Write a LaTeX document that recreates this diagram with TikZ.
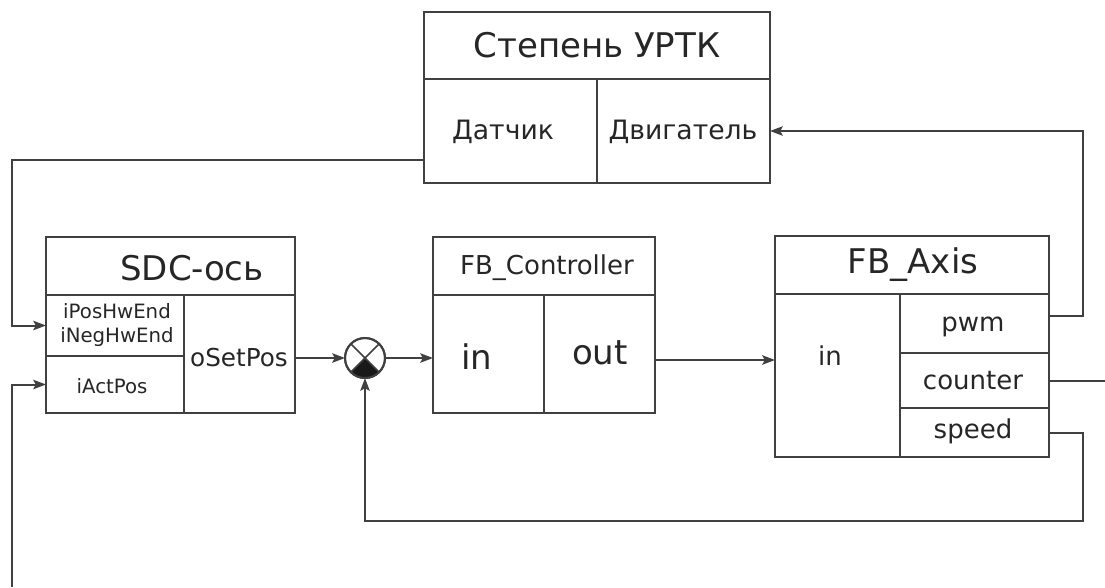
\documentclass[tikz,border=0pt]{standalone}
\usepackage{fontspec}
\setmainfont{DejaVu Sans}
\usetikzlibrary{arrows.meta,fit}

\begin{document}
\begin{tikzpicture}[x=0.75pt,y=-0.75pt,
  line join=miter,
  ink/.style={draw=black!75, line width=1.6pt},
  cellbox/.style={ink, rectangle, inner sep=0pt, outer sep=0pt},
  conn/.style={draw=black!75, line width=1.5pt},
  arr/.style={conn, -{Stealth[length=9.5pt,width=7pt,inset=1.8pt]}},
  big/.style={font=\fontsize{25.5}{30}\selectfont, inner sep=0pt, text=black!85},
  mid/.style={font=\fontsize{19.5}{23}\selectfont, inner sep=0pt, text=black!85},
  small/.style={font=\fontsize{14.8}{18}\selectfont, inner sep=0pt, align=center, text=black!85},
]
\useasboundingbox (0,0) rectangle (1105,587);

% ---- plant block
\node[cellbox, fit={(424,12) (770,79)}] (urtk) {};
\node[cellbox, fit={(424,79) (597,183)}] (dat) {};
\node[cellbox, fit={(597,79) (770,183)}] (dvig) {};
\node[big] (urtkT) at (597,45) {Степень УРТК};
\node[mid, font=\fontsize{20}{24}\selectfont] (datT) at (503,132) {Датчик};
\node[mid, font=\fontsize{20}{24}\selectfont] (dvigT) at (683,132) {Двигатель};

% ---- SDC axis block
\node[cellbox, fit={(46,237) (295,295)}] (sdc) {};
\node[cellbox, fit={(46,295) (184,356)}] (posin) {};
\node[cellbox, fit={(46,356) (184,413)}] (actin) {};
\node[cellbox, fit={(184,295) (295,413)}] (setpos) {};
\node[big] (sdcT) at (192,268) {SDC-ось};
\node[small] (posinT) at (117,325) {iPosHwEnd\\iNegHwEnd};
\node[small] (actinT) at (112,386) {iActPos};
\node[mid, font=\fontsize{18.5}{22}\selectfont] (setposT) at (239,358) {oSetPos};

% ---- summing junction
\node[circle, draw=black!75, line width=1.5pt, minimum size=30pt, inner sep=0pt, outer sep=0pt] (sum) at (365,358) {};
\fill[black!90] (sum.center) -- (sum.south west) arc[start angle=225, end angle=315, radius=15pt] -- cycle;
\draw[conn, line width=1.2pt] (sum.north west) -- (sum.south east);
\draw[conn, line width=1.2pt] (sum.north east) -- (sum.south west);
\draw[conn] (sum) circle[radius=15pt];

% ---- controller block
\node[cellbox, fit={(433,237) (655,295)}] (ctrl) {};
\node[cellbox, fit={(433,295) (544,413)}] (ctrlin) {};
\node[cellbox, fit={(544,295) (655,413)}] (ctrlout) {};
\node[mid] (ctrlT) at (547,268) {FB\_Controller};
\node[big] (ctrlinT) at (477,357) {in};
\node[big] (ctrloutT) at (600,353) {out};

% ---- axis block
\node[cellbox, fit={(775,236) (1049,294)}] (axis) {};
\node[cellbox, fit={(775,294) (900,457)}] (axisin) {};
\node[cellbox, fit={(900,294) (1049,353)}] (pwm) {};
\node[cellbox, fit={(900,353) (1049,408)}] (cnt) {};
\node[cellbox, fit={(900,408) (1049,457)}] (spd) {};
\node[big] (axisT) at (913,265) {FB\_Axis};
\node[mid] (axisinT) at (830,356) {in};
\node[mid] (pwmT) at (973,327) {pwm};
\node[mid] (cntT) at (973,381) {counter};
\node[mid] (spdT) at (973,431) {speed};

% ---- connectors
\coordinate (datout) at (424,160);
\coordinate (actsrc) at (12,587);
\coordinate (cntend) at (1105,380);
\coordinate (fbturn) at (365,521);
\coordinate (ctrlsrc) at ([yshift=-4.5pt]ctrlout.east);
\coordinate (pwmsrc) at ([yshift=5.5pt]pwm.east);

\draw[arr] (datout) -- ++(-412,0) |- (posin.west);
\draw[arr] (actsrc) |- (actin.west);
\draw[arr] (setpos.east |- sum) -- (sum.west);
\draw[arr] (sum.east) -- (ctrlin.west |- sum.east);
\draw[arr] (ctrlsrc) -- (axisin.west |- ctrlsrc);
\draw[arr] (pwmsrc) -- ++(34,0) |- (dvig.east);
\draw[conn] (cnt.east) -- (cnt.east -| cntend);
\draw[arr] (spd.east) -- ++(34,0) |- (fbturn) -- (sum.south);
\end{tikzpicture}
\end{document}
